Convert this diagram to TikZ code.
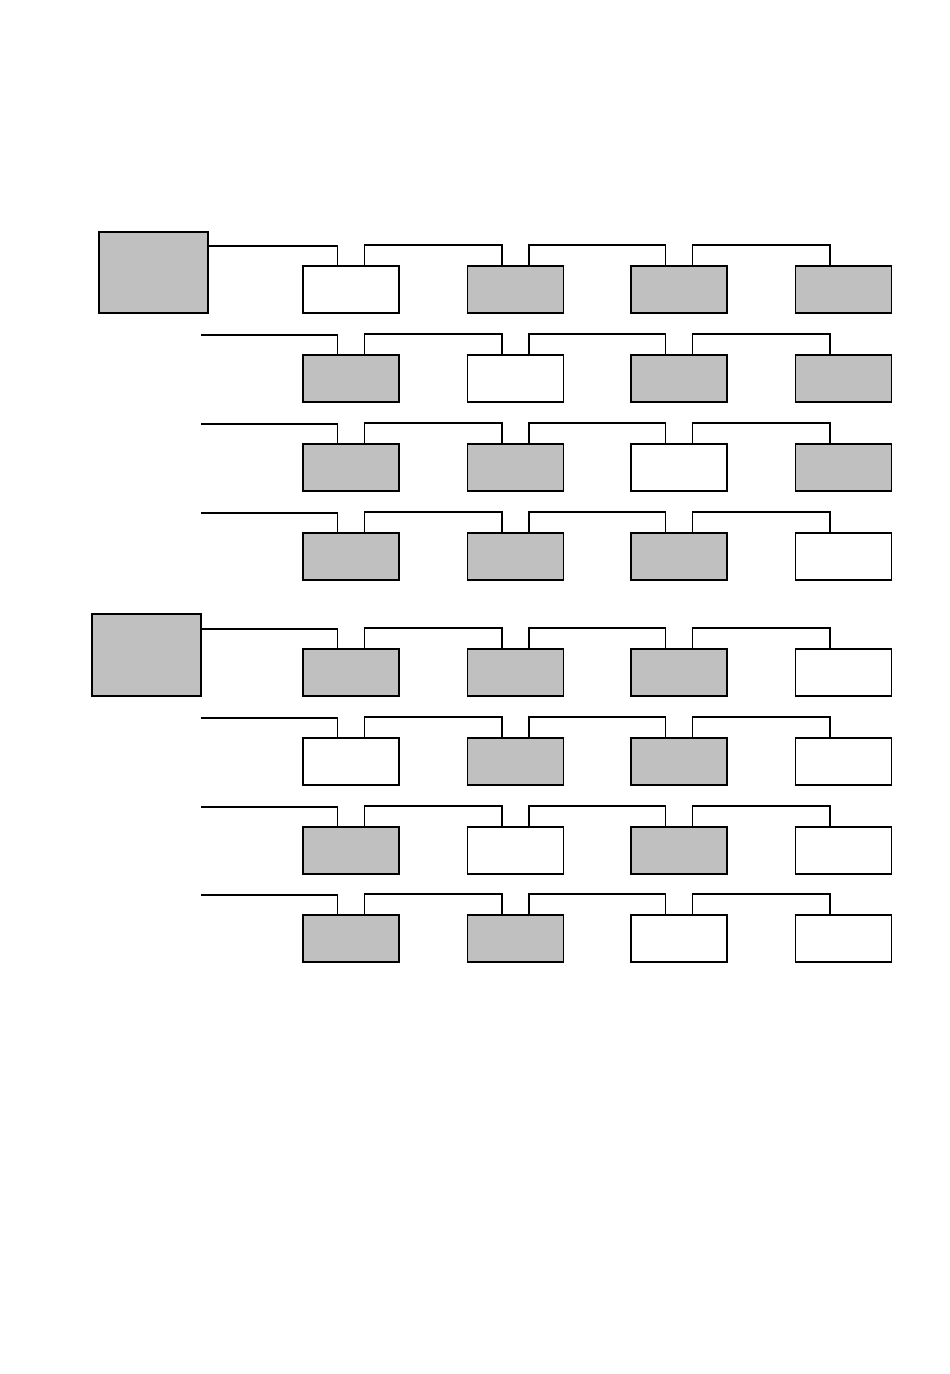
\documentclass[tikz,border=0pt]{standalone}
\usetikzlibrary{positioning,calc}
\definecolor{boxgray}{RGB}{192,192,192}

\begin{document}
\begin{tikzpicture}[
  x=1pt, y=-1pt,
  line width=1.8pt,
  unit/.style={draw, minimum width=96pt, minimum height=47pt, inner sep=0pt},
  hub/.style={draw, fill=boxgray, minimum width=109pt, minimum height=81pt, inner sep=0pt},
  link/.style={line width=1.8pt}
]
\useasboundingbox (0,0) rectangle (950,1374);
\node[hub] (hubA) at (153.5,272.5) {};
\node[hub, minimum height=82pt] (hubB) at (146.5,655) {};

% one row of four units per line, fills from left to right
\foreach \r/\y/\fa/\fb/\fc/\fd in {
  1/289.5/white/boxgray/boxgray/boxgray,
  2/378.5/boxgray/white/boxgray/boxgray,
  3/467.5/boxgray/boxgray/white/boxgray,
  4/556.5/boxgray/boxgray/boxgray/white,
  5/672.5/boxgray/boxgray/boxgray/white,
  6/761.5/white/boxgray/boxgray/white,
  7/850.5/boxgray/white/boxgray/white,
  8/938.5/boxgray/boxgray/white/white} {
  \foreach \c/\x/\f in {1/351/\fa, 2/515.5/\fb, 3/679/\fc, 4/843.5/\fd}
    \node[unit, fill=\f] (u-\r-\c) at (\x,\y) {};
  \coordinate (bus-\r) at (201,\y-43.5);
}

% feeders
\draw[link] (hubA.east |- bus-1) -| ([xshift=-13.5pt]u-1-1.north);
\draw[link] (hubB.east |- bus-5) -| ([xshift=-13.5pt]u-5-1.north);
\foreach \r in {2,3,4,6,7,8}
  \draw[link] (bus-\r) -| ([xshift=-13.5pt]u-\r-1.north);

% daisy chain along each row
\foreach \r in {1,...,8}
  \foreach \c [count=\n from 2] in {1,2,3}
    \draw[link] ([xshift=13.5pt]u-\r-\c.north) -- ++(0,-20) -| ([xshift=-13.5pt]u-\r-\n.north);
\end{tikzpicture}
\end{document}
